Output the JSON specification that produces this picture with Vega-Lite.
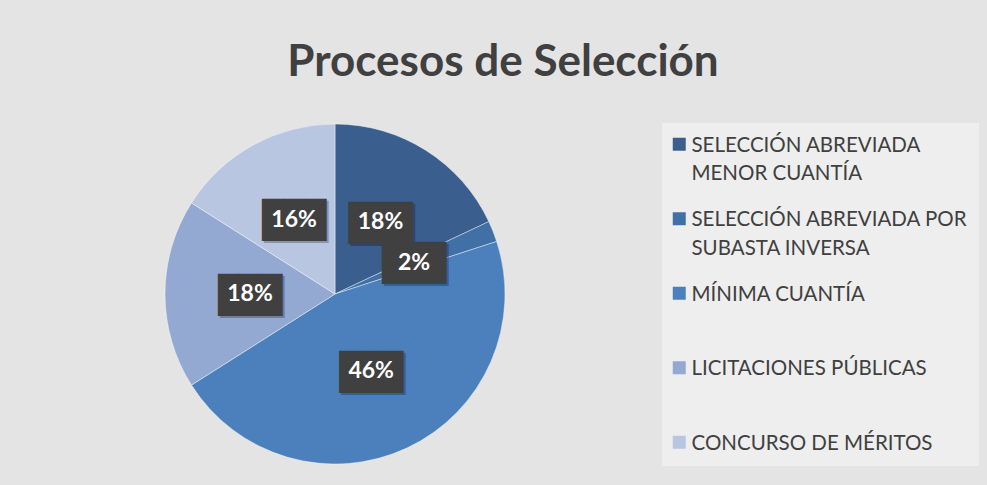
{
  "$schema": "https://vega.github.io/schema/vega-lite/v6.json",
  "width": 654,
  "height": 384,
  "padding": {"left": 8, "top": 41, "right": 30, "bottom": 0},
  "background": "#e4e4e4",
  "title": {
    "text": "Procesos de Selección",
    "font": "Lato",
    "fontSize": 44,
    "fontWeight": "bold",
    "color": "#404040",
    "anchor": "middle",
    "frame": "group",
    "dx": 168,
    "baseline": "alphabetic",
    "offset": -18
  },
  "config": {
    "style": {"guide-label": {"lineHeight": 28.5, "dy": 7.4}}
  },
  "data": {
    "values": [
      {"proceso": "SELECCIÓN ABREVIADA MENOR CUANTÍA", "porcentaje": 0.18, "orden": 1},
      {"proceso": "SELECCIÓN ABREVIADA POR SUBASTA INVERSA", "porcentaje": 0.02, "orden": 2},
      {"proceso": "MÍNIMA CUANTÍA", "porcentaje": 0.46, "orden": 3},
      {"proceso": "LICITACIONES PÚBLICAS", "porcentaje": 0.18, "orden": 4},
      {"proceso": "CONCURSO DE MÉRITOS", "porcentaje": 0.16, "orden": 5}
    ]
  },
  "encoding": {
    "theta": {"field": "porcentaje", "type": "quantitative", "stack": true},
    "order": {"field": "orden", "type": "quantitative", "sort": "ascending"},
    "detail": {"field": "proceso", "type": "nominal"}
  },
  "layer": [
    {
      "mark": {"type": "arc", "radius": 170, "stroke": "#ffffff", "strokeWidth": 0.7, "strokeOpacity": 0.6},
      "encoding": {
        "color": {
          "field": "proceso",
          "type": "nominal",
          "scale": {
            "domain": ["SELECCIÓN ABREVIADA MENOR CUANTÍA", "SELECCIÓN ABREVIADA POR SUBASTA INVERSA", "MÍNIMA CUANTÍA", "LICITACIONES PÚBLICAS", "CONCURSO DE MÉRITOS"],
            "range": ["#3a5f8e", "#4170a6", "#4b80bd", "#93a9d2", "#b9c6e1"]
          },
          "legend": {
            "title": null,
            "orient": "none",
            "legendX": 654,
            "legendY": 21,
            "padding": 11,
            "fillColor": "#eeeeee",
            "symbolType": "square",
            "symbolSize": 169,
            "symbolStrokeWidth": 0,
            "symbolOffset": -4,
            "labelFont": "Lato",
            "labelFontSize": 20.5,
            "labelColor": "#404040",
            "labelLimit": 340,
            "labelOffset": 2,
            "labelBaseline": "alphabetic",
            "rowPadding": 23.5,
            "labelExpr": "datum.label == 'SELECCIÓN ABREVIADA MENOR CUANTÍA' ? ['SELECCIÓN ABREVIADA', 'MENOR CUANTÍA'] : datum.label == 'SELECCIÓN ABREVIADA POR SUBASTA INVERSA' ? ['SELECCIÓN ABREVIADA POR', 'SUBASTA INVERSA'] : datum.label == 'CONCURSO DE MÉRITOS' ? datum.label : [datum.label, ' ']",
            "encode": {"labels": {"enter": {"dy": {"value": 7.4}, "lineHeight": {"value": 28.5}}}}
          }
        }
      }
    },
    {
      "mark": {"type": "text", "radius": 85, "text": "███", "font": "DejaVu Sans Mono", "fontSize": 35.5, "color": "#000000", "opacity": 0.25, "dx": 2, "dy": 3.6},
      "encoding": {}
    },
    {
      "mark": {"type": "text", "radius": 85, "text": "███", "font": "DejaVu Sans Mono", "fontSize": 35.5, "color": "#404040", "dy": 1.6},
      "encoding": {}
    },
    {
      "mark": {"type": "text", "radius": 85, "font": "Lato", "fontSize": 23, "fontWeight": "bold", "color": "#ffffff"},
      "encoding": {
        "text": {"field": "porcentaje", "type": "quantitative", "format": ".0%"}
      }
    }
  ]
}
